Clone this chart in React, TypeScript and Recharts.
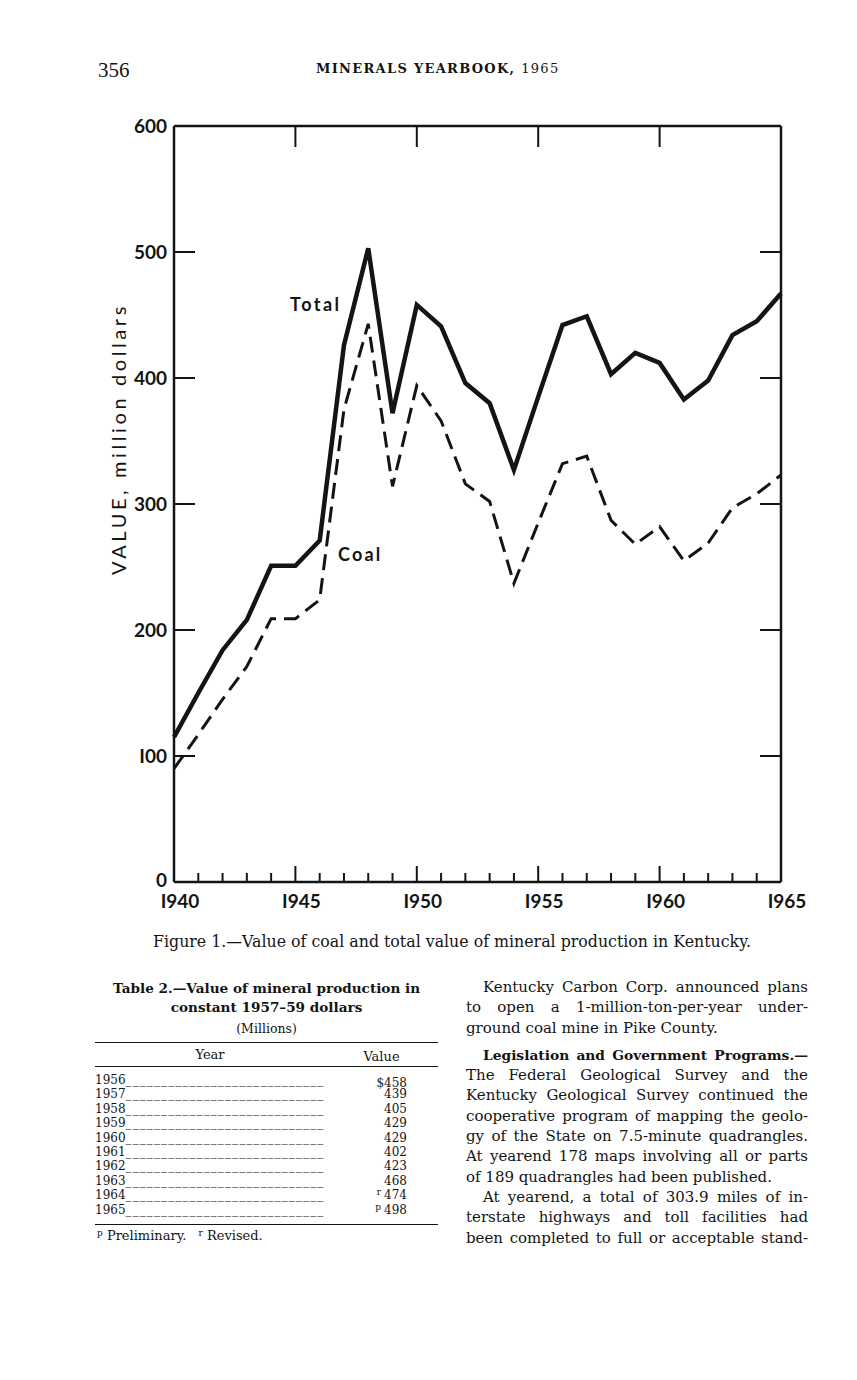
import { LineChart, Line, XAxis, YAxis } from 'recharts'

const YEARS = [
  1940, 1941, 1942, 1943, 1944, 1945, 1946, 1947, 1948, 1949, 1950, 1951, 1952,
  1953, 1954, 1955, 1956, 1957, 1958, 1959, 1960, 1961, 1962, 1963, 1964, 1965,
]
const TOTAL = [
  115, 150, 184, 208, 251, 251, 271, 426, 503, 372, 458, 441, 396, 380, 327, 385,
  442, 449, 403, 420, 412, 383, 398, 434, 445, 467,
]
const COAL = [
  90, 117, 145, 171, 209, 209, 224, 375, 443, 314, 394, 366, 316, 302, 237, 285,
  332, 338, 287, 268, 282, 255, 269, 297, 308, 323,
]
const Y_TICKS = [0, 100, 200, 300, 400, 500, 600]
const X_TICKS = YEARS
const TOP_TICKS = [1945, 1950, 1955, 1960]
const RIGHT_TICKS = [100, 200, 300, 400, 500]

const TABLE_YEARS = ['1956', '1957', '1958', '1959', '1960', '1961', '1962', '1963', '1964', '1965']
const TABLE_VALUES = ['$458', '439', '405', '429', '429', '402', '423', '468', '474', '498']
const TABLE_MARKS = ['', '', '', '', '', '', '', '', 'r', 'p']

const TEXT_LINES: { t: string; indent?: boolean; bold?: boolean; last?: boolean; gap?: boolean }[] = [
  { t: 'Kentucky Carbon Corp. announced plans', indent: true },
  { t: 'to open a 1-million-ton-per-year under-' },
  { t: 'ground coal mine in Pike County.', last: true },
  { t: 'Legislation and Government Programs.—', indent: true, bold: true, gap: true },
  { t: 'The Federal Geological Survey and the' },
  { t: 'Kentucky Geological Survey continued the' },
  { t: 'cooperative program of mapping the geolo-' },
  { t: 'gy of the State on 7.5-minute quadrangles.' },
  { t: 'At yearend 178 maps involving all or parts' },
  { t: 'of 189 quadrangles had been published.', last: true },
  { t: 'At yearend, a total of 303.9 miles of in-', indent: true },
  { t: 'terstate highways and toll facilities had' },
  { t: 'been completed to full or acceptable stand-' },
]

const chartData = YEARS.map((year, i) => ({ year, total: TOTAL[i], coal: COAL[i] }))

const INK = '#141414'
const SANS = 'Lato, "Open Sans", sans-serif'
const SERIF = '"DejaVu Serif", "Liberation Serif", serif'

const LeftTick = (props: any) => {
  const { x, y, payload } = props
  const v = payload.value
  return (
    <g>
      <text x={x} y={y + (v === 0 ? 5 : 7)} textAnchor="end" fontFamily={SANS} fontWeight={700} fontSize={19} fill={INK}>
        {v === 100 ? 'I00' : v}
      </text>
      {v > 0 && v < 600 && (
        <line x1={x + 7} x2={x + 28} y1={y} y2={y} stroke={INK} strokeWidth={2} />
      )}
    </g>
  )
}

const RightTick = (props: any) => {
  const { x, y } = props
  return <line x1={x - 7} x2={x - 28} y1={y} y2={y} stroke={INK} strokeWidth={2} />
}

const BottomTick = (props: any) => {
  const { x, y, payload } = props
  const v = payload.value
  const axisY = y - 4
  const major = v % 5 === 0
  return (
    <g>
      {v > 1940 && v < 1965 && (
        <line x1={x} x2={x} y1={axisY} y2={axisY - (major ? 16 : 9)} stroke={INK} strokeWidth={2} />
      )}
      {major && (
        <text x={x + 6} y={axisY + 26} textAnchor="middle" fontFamily={SANS} fontWeight={700} fontSize={19} fill={INK}>
          {String(v).replace('1', 'I')}
        </text>
      )}
    </g>
  )
}

const TopTick = (props: any) => {
  const { x, y } = props
  const axisY = y + 4
  return <line x1={x} x2={x} y1={axisY} y2={axisY + 21} stroke={INK} strokeWidth={2} />
}

function Chart() {
  return (
    <LineChart
      width={857}
      height={950}
      data={chartData}
      margin={{ top: 125, right: 75, left: 114, bottom: 38 }}
    >
      <XAxis
        dataKey="year"
        type="number"
        domain={[1940, 1965]}
        ticks={X_TICKS}
        interval={0}
        height={30}
        tickSize={0}
        tickMargin={4}
        tick={BottomTick}
        axisLine={{ stroke: INK, strokeWidth: 2.5 }}
        tickLine={false}
      />
      <XAxis
        xAxisId="top"
        orientation="top"
        dataKey="year"
        type="number"
        domain={[1940, 1965]}
        allowDataOverflow
        ticks={TOP_TICKS}
        interval={0}
        height={1}
        tickSize={0}
        tickMargin={4}
        tick={TopTick}
        axisLine={{ stroke: INK, strokeWidth: 2.5 }}
        tickLine={false}
      />
      <YAxis
        type="number"
        domain={[0, 600]}
        ticks={Y_TICKS}
        interval={0}
        width={60}
        tickSize={0}
        tickMargin={7}
        tick={LeftTick}
        axisLine={{ stroke: INK, strokeWidth: 2.5 }}
        tickLine={false}
      />
      <YAxis
        yAxisId="right"
        orientation="right"
        type="number"
        domain={[0, 600]}
        allowDataOverflow
        ticks={RIGHT_TICKS}
        interval={0}
        width={1}
        tickSize={0}
        tickMargin={7}
        tick={RightTick}
        axisLine={{ stroke: INK, strokeWidth: 2.5 }}
        tickLine={false}
      />
      <Line
        type="linear"
        dataKey="coal"
        stroke={INK}
        strokeWidth={3}
        strokeDasharray="16 8"
        strokeLinejoin="miter"
        dot={false}
        activeDot={false}
        isAnimationActive={false}
      />
      <Line
        type="linear"
        dataKey="total"
        stroke={INK}
        strokeWidth={4.5}
        strokeLinejoin="miter"
        dot={false}
        activeDot={false}
        isAnimationActive={false}
      />
    </LineChart>
  )
}

const sup = { fontSize: 9, position: 'relative' as const, top: -4 }

export default function App() {
  return (
    <div
      style={{
        position: 'absolute',
        left: 0,
        top: 0,
        width: 857,
        height: 1380,
        background: '#fff',
        color: INK,
        fontFamily: SERIF,
        overflow: 'hidden',
      }}
    >
      <div style={{ position: 'absolute', left: 98, top: 58, fontSize: 21, fontFamily: '"Liberation Serif", serif' }}>356</div>
      <div
        style={{
          position: 'absolute',
          left: 316,
          top: 61,
          fontSize: 13,
          fontWeight: 700,
          letterSpacing: 1.3,
        }}
      >
        MINERALS YEARBOOK, <span style={{ fontWeight: 400 }}>1965</span>
      </div>

      <div style={{ position: 'absolute', left: 0, top: 0 }}>
        <Chart />
      </div>

      <div
        style={{
          position: 'absolute',
          left: 118 - 160,
          top: 439 - 13,
          width: 320,
          lineHeight: '26px',
          textAlign: 'center',
          transform: 'rotate(-90deg)',
          fontFamily: SANS,
          fontSize: 20,
          letterSpacing: 3.6,
        }}
      >
        VALUE, million dollars
      </div>
      <div
        style={{ position: 'absolute', left: 290, top: 293, fontFamily: SANS, fontWeight: 700, fontSize: 18, letterSpacing: 2.5 }}
      >
        Total
      </div>
      <div
        style={{ position: 'absolute', left: 338, top: 543, fontFamily: SANS, fontWeight: 700, fontSize: 18, letterSpacing: 2.2 }}
      >
        Coal
      </div>

      <div style={{ position: 'absolute', left: 0, width: 904, top: 932, textAlign: 'center', fontSize: 15.8 }}>
        Figure 1.—Value of coal and total value of mineral production in Kentucky.
      </div>

      <div style={{ position: 'absolute', left: 95, top: 979, width: 343 }}>
        <div style={{ textAlign: 'center', fontWeight: 700, fontSize: 13.6, lineHeight: '19px' }}>
          Table 2.—Value of mineral production in
          <br />
          constant 1957–59 dollars
        </div>
        <div style={{ textAlign: 'center', fontSize: 12.5, marginTop: 4 }}>(Millions)</div>
        <div style={{ borderTop: '1.5px solid ' + INK, marginTop: 6 }} />
        <div style={{ display: 'flex', fontSize: 13, height: 23, alignItems: 'center' }}>
          <div style={{ width: 230, textAlign: 'center' }}>Year</div>
          <div style={{ flex: 1, textAlign: 'center', paddingTop: 3 }}>Value</div>
        </div>
        <div style={{ borderTop: '1px solid ' + INK }} />
        <div style={{ paddingTop: 6, paddingBottom: 7 }}>
          {TABLE_YEARS.map((yr, i) => (
            <div key={yr} style={{ display: 'flex', fontSize: 12, height: 14.4, lineHeight: '14.4px' }}>
              <div style={{ width: 232, whiteSpace: 'nowrap' }}>
                {yr}
                <span style={{ letterSpacing: 1.1 }}>{'_'.repeat(28)}</span>
              </div>
              <div style={{ width: 80, textAlign: 'right', position: 'relative', top: i === 0 ? 3 : 0 }}>
                {TABLE_MARKS[i] && <span style={{ ...sup, marginRight: 3 }}>{TABLE_MARKS[i]}</span>}
                {TABLE_VALUES[i]}
              </div>
            </div>
          ))}
        </div>
        <div style={{ borderTop: '1.5px solid ' + INK }} />
        <div style={{ fontSize: 13, marginTop: 3, paddingLeft: 2 }}>
          <span style={sup}>p</span> Preliminary.
          <span style={{ ...sup, marginLeft: 12 }}>r</span> Revised.
        </div>
      </div>

      <div style={{ position: 'absolute', left: 466, top: 977, width: 342, fontSize: 15 }}>
        {TEXT_LINES.map((ln, i) => (
          <div
            key={i}
            style={{
              lineHeight: '20.3px',
              marginTop: ln.gap ? 7 : 0,
              paddingLeft: ln.indent ? 17 : 0,
              fontWeight: ln.bold ? 700 : 400,
              fontSize: ln.bold ? 13.8 : 15,
              textAlign: 'justify',
              textAlignLast: ln.last ? 'left' : 'justify',
              whiteSpace: 'nowrap',
            }}
          >
            {ln.t}
          </div>
        ))}
      </div>
    </div>
  )
}
